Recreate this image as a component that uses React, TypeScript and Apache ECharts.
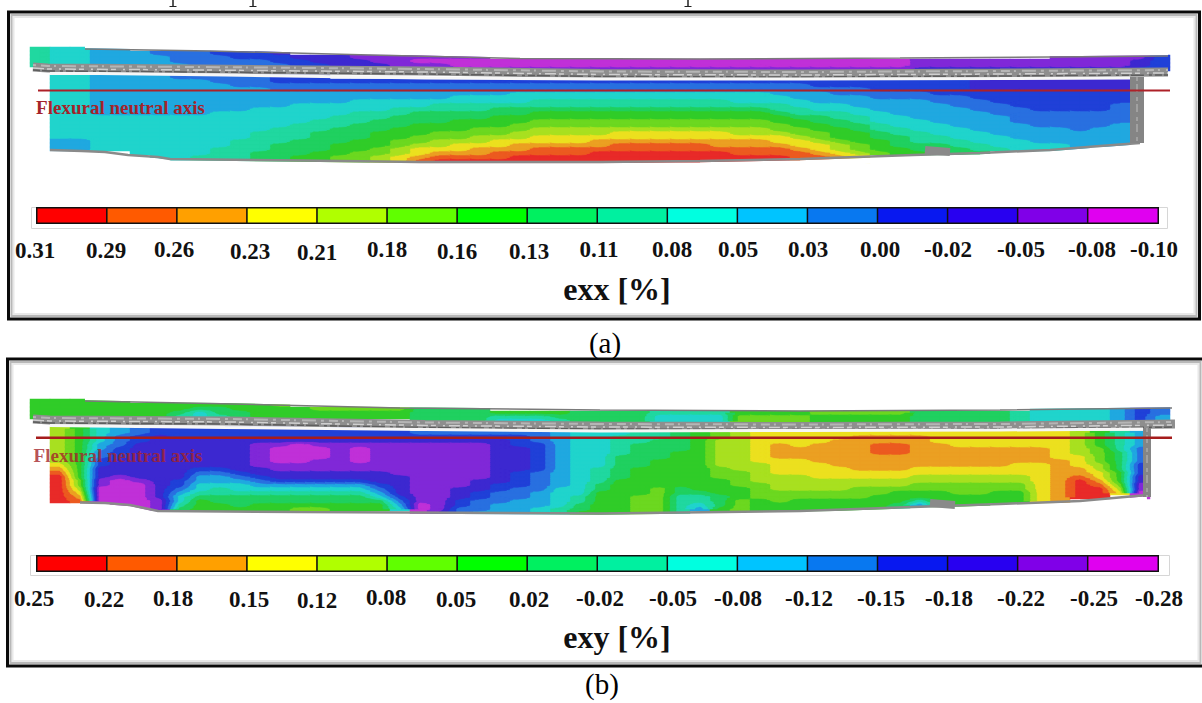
import React, { useEffect, useRef } from "react";
import * as echarts from "echarts";

// Legend tick labels, red end first.
const exxTicks = ["0.31","0.29","0.26","0.23","0.21","0.18","0.16","0.13","0.11","0.08","0.05","0.03","0.00","-0.02","-0.05","-0.08","-0.10"];
const exyTicks = ["0.25","0.22","0.18","0.15","0.12","0.08","0.05","0.02","-0.02","-0.05","-0.08","-0.12","-0.15","-0.18","-0.22","-0.25","-0.28"];
const legendColors = ["#ff0000","#ff5a00","#ffa000","#ffff00","#b0ff00","#60ff00","#00ff00","#00f060","#00f0a0","#00ffe0","#00c4ff","#0878f0","#0818f0","#2800f0","#8000e8","#e000f0"];
const fieldColors = ["#e82a28","#ec5a20","#eba022","#ece01e","#a8e020","#6cd820","#30cc28","#20d060","#20d8a0","#20d4cc","#20a8e0","#2870e0","#2040d8","#3c28d0","#8028d8","#c030d8"];

// One string per beam column (left to right), one character per row (top to bottom):
const exxFlange = ["88888..","99999..","99999..","aaaaa..","aaaaa..",".aaaa..",".baaa..",".bbba..",".bbbb..",".cbbb..",".ccbb..",".ccbb..",".dccb..","..dcc..","..ddc..","..ddd..","..edd..","..eed..","..eee..","..efee.","..efee.","..effe.","..effe.","...ffe.","...ffe.","...ffe.","...ffe.","...ffe.","...ffe.","...ffe.","...ffe.","...ffe.","...ffe.","...ffe.","...ffe.","...ffe.","...ffe.","...ffe.","...ffe.","...ffe.","...ffe.","...ffe.","...ffe.","...ffe.","...eed.","...eed.","...eed.","...eed.","...eed.","...eed.","...eed.","..eeed.","..eeed.","..eeed.","..eeed.","..eddc.","..cccc."];
const exxWeb = [
"......................","9999999999999999aaa...","9999999999999999aaa...","aaaaaaaaaa999999999...","aaaaaaaaaa999999999...","aaaaaaaaaa9999999999..","aaaaaaaaaa99999999999.","baaaaaaaaa999999999999","baaaaaaaaa999999999988",
"bbaaaaaaa9999999998888","bbbaaaaaa9999999888888","bbbaaaaa99999988888777","ccbbaaaa99999888877777","ccbbaaa999998888777766","ccbbaaa999988877777666",".cbbaaa999888777766655",".cbbaa9998887777666555",".cbbaa9998877766665544",".cbbaa9988777666554433",
".cbbaa9987776665543321",".cbbaa9887776655443210",".cbba99887766655433210",".cbba99887766554432210",".cbba99877666554332110",".cbb999877665544322100",
".cbb998876655443321100",".cbb998876655443321100",".cbb998876655443321100",".cbb998876655443221000",".cbb998876655433211000",".cbb998876655433211000",".cbb998876655433211000",
".cbb998876655433211000",".cbb998876655433211000",".cbb998876655433221000",".cbb999876655443221100",
".cbb999876655443221100",".cbba99887665543321100",".cbbaa9988766554332111",".ccbaaa998776655433211",".ccbbaa998877666544322",".ccbbaaa99887766655433",".cccbbaaa99988776665..",".cccbbaaaa9998877766..",".cccbbaaaaa999888776..",".ccccbbaaaaa99988777..",".ccccbbbaaaaa9998877..",".dddccbbbaaaaa999887..",".dddcccbbbaaaaa9998...",".dddccccbbbbaaaa999...",".dddcccccbbbbaaaa99...",".dddcccccbbbbaaaa99...",".dddcccccbbbbbaaaaa...",".dddcccccbbbbaaaaa....",".dddcccbbbbbaaaaaa....","......................","......................"];

const exyFlange = ["66666..","66666..","66666..","66666..","66666..",".6666..",".6666..",".6678..",".6799..",".6778..",".6677..",".6666..",".5666..","..666..","..566..","..566..","..566..","..566..","..566..","..7777.","..7777.","..7777.","..7777.","...689.","...689.","...689.","...678.","...777.","...777.","...777.","...777.","...899.","...899.","...899.","...899.","...655.","...655.","...655.","...655.","...566.","...566.","...566.","...566.","...566.","...777.","...777.","...777.","...777.","...777.","...888.","..9999.","..9999.","..9999.","..9999.","..aaaa.","..cccc.","..bbaa."];
const exyWeb = [
"......................","4444444443210000000...","6666666666666554321...","9999aabbccdddeeffff...","aabbbcccddddefffffff..","bbccdddddddddefffffff.","ccddddddddddddddddeee.","cccddddddddddccba9987.","cccdddddddcbaa9987666.","cccdddddddcbaa9887766.","cccddddddddcba9987776.",
"cccdeeeeeeddcba987766.","cccdeffffeeddca987766.","cccdfffffeeddca987765.","cccdefffeeeddca987765.","cccdeeeeeeeddca987766.","cccdeffffeeddca987766.","cccdeeeeeeedddcba9766.","cccdeeeeeeeedddddcba9.",
".bcdeeeeeeeeeeeeeeefff",".bcdeeeeeeeeeeeeeeeeed",".bcdeeeeeeeeeeedddccbb",".bcdeeeeeeeeedddccbbba",".bcdddddddddddccbbbaaa",".bcccddddddccccbbbaaaa",".bbbcccccccbbbbbaaaa99",".aaaaaaaaaaaaaa9999988",".999999999999999988776",".999999999888877666666",".988888777777666666666",".888777777666666655555",".887777766666665555555",".777776666666667788888",".6666666666666667889a.",".55444444455566667776.",".44444444445555666555.",".33333333444445555666.",".33322223333444455566.",
".33332223333444455666.",".33322222333344455666.",".33222222233344455666.",".32222222223344555666.",".32211122223344556666.",".32211122223344566678.",".322222222334455668a..",".3332222223344556666..",".3333222223344555666..",".3333222223344555666..",".333322222334455666...",".333322223334455666...",".333322223333333333...",".333333322222222222...",".44444433322100000....",".66665555443321000....",".8888877777666543.....",".aaaabbbbcccddeeff....","......................"];

// Beam outlines and reference lines, in picture-scale length units.
const exxTopX = [85,210,370,520,700,900,1050,1168];
const exxTopY = [49,51,55,58.5,59,58,57,56];
const exxBottomX = [50,82,105,128,158,170,300,420,600,700,800,913,980,1050,1100,1140];
const exxBottomY = [150,151,152,155,157,159,160.5,162,162,161,159,155,153,150,146,143];
const exxGapX = [33,48,200,425,600,800,1000,1168];
const exxGapY = [67,68,69,71,73.5,74,73,72];
const exxWhiteX = [50,100,225,425,600,800,1000,1130];
const exxWhiteY = [73.5,73.5,75,78,79,79,78.5,78];
const exxBlobX = [925,950];
const exxBlobY = [150,152];
const exxEndX = [1137,1137];
const exxEndY = [77,143];
const exxAxisX = [38,1170];
const exxAxisY = [90.5,90.5];

const exyTopX = [85,210,400,600,800,1000,1175];
const exyTopY = [401,403.5,408,410,411,410,408];
const exyBottomX = [80,105,130,158,300,600,800,913,1000,1080,1147];
const exyBottomY = [502.5,503,505,511,512,513.5,511,507,504,501,495];
const exyGapX = [33,50,230,425,600,800,1000,1175];
const exyGapY = [419,420,421,424.5,426,426.5,426,424];
const exyWhiteX = [50,225,425,600,800,1000,1143];
const exyWhiteY = [425.5,427.5,429.5,431,430.5,430,429];
const exyBlobX = [930,955];
const exyBlobY = [503,505];
const exyEndX = [1147,1147];
const exyEndY = [428,497];
const exyAxisX = [36,1173];
const exyAxisY = [437.7,437.7];

// Where the tick labels sit (centre x, centre y).
const exxLabelX = [35,106,174,250,317,387,457,529,599,672,738,808,880,948,1021,1092,1154];
const exxLabelY = [250,250,249,251,252,249,251,251,249,249,249,249,249,249,249,249,249];
const exyLabelX = [34,104,173,249,317,386,456,529,600,673,738,809,881,949,1021,1094,1159];
const exyLabelY = [598,599,598,599,600,597,599,599,598,598,598,598,598,598,598,598,598];

const serif = '"Liberation Serif", "Times New Roman", serif';

function bandCenters(ticks: string[]) {
  const n = ticks.map(Number);
  return n.slice(0, -1).map((v, i) => (v + n[i + 1]) / 2);
}
function pieces(ticks: string[], colors: string[]) {
  const n = ticks.map(Number);
  return colors.map((color, i) => ({ gte: n[i + 1], lt: n[i], color }));
}
function cells(flange: string[], web: string[], ticks: string[]) {
  const centers = bandCenters(ticks);
  const out: number[][] = [];
  flange.forEach((f, c) => {
    const col = f + web[c];
    for (let r = 0; r < col.length; r++) {
      const b = parseInt(col[r], 16);
      if (!Number.isNaN(b)) out.push([c, r, centers[b]]);
    }
  });
  return out;
}
// Each block of four neighbouring cells: the bands at its corners, for the filled-contour drawing.
function quads(flange: string[], web: string[]) {
  const out: number[][] = [];
  const col = (c: number) => flange[c] + web[c];
  for (let c = 0; c < flange.length - 1; c++) {
    const a = col(c), b = col(c + 1);
    for (let r = 0; r < a.length - 1; r++) {
      const v = [a[r], b[r], b[r + 1], a[r + 1]].map((s) => parseInt(s, 16));
      if (v.every((x) => !Number.isNaN(x))) out.push([c, r, ...v]);
    }
  }
  return out;
}
type P = [number, number, number];
function clip(poly: P[], limit: number, keepAbove: boolean): P[] {
  const out: P[] = [];
  const inside = (p: P) => (keepAbove ? p[2] >= limit : p[2] <= limit);
  for (let i = 0; i < poly.length; i++) {
    const a = poly[i], b = poly[(i + 1) % poly.length];
    const ia = inside(a), ib = inside(b);
    if (ia) out.push(a);
    if (ia !== ib) {
      const t = (limit - a[2]) / (b[2] - a[2]);
      out.push([a[0] + (b[0] - a[0]) * t, a[1] + (b[1] - a[1]) * t, limit]);
    }
  }
  return out;
}
const polygon = (pts: number[][], fill: string) => ({
  type: "polygon",
  shape: { points: pts.map((p) => [p[0], p[1]]) },
  style: { fill, stroke: fill, lineWidth: 0.6 },
});
function contourItem(_params: any, api: any) {
  const c = api.value(0), r = api.value(1);
  const v = [api.value(2), api.value(3), api.value(4), api.value(5)];
  const at = [api.coord([c, r]), api.coord([c + 1, r]), api.coord([c + 1, r + 1]), api.coord([c, r + 1])];
  const lo = Math.min(...v), hi = Math.max(...v);
  const children: any[] = [];
  if (lo === hi) {
    children.push(polygon(at, fieldColors[lo]));
  } else {
    const mid = (v[0] + v[1] + v[2] + v[3]) / 4;
    const cx = (at[0][0] + at[2][0]) / 2, cy = (at[0][1] + at[2][1]) / 2;
    for (let i = 0; i < 4; i++) {
      const j = (i + 1) % 4;
      const tri: P[] = [[at[i][0], at[i][1], v[i]], [at[j][0], at[j][1], v[j]], [cx, cy, mid]];
      for (let b = lo; b <= hi; b++) {
        const part = clip(clip(tri, b - 0.5, true), b + 0.5, false);
        if (part.length >= 3) children.push(polygon(part, fieldColors[b]));
      }
    }
  }
  return { type: "group", children };
}
const range = (n: number) => Array.from({ length: n }, (_, i) => String(i));

export default function App() {
  const ref = useRef<HTMLDivElement>(null);
  useEffect(() => {
    const chart = echarts.init(ref.current!, undefined, { renderer: "svg" });

    const grids: any[] = [], xAxes: any[] = [], yAxes: any[] = [], series: any[] = [], visualMaps: any[] = [];
    const hidden = { show: false };

    const addPanel = (p: any) => {
      const gHeat = grids.length;
      grids.push({ left: 30, top: p.top, width: 1140, height: 116 });
      xAxes.push({ type: "category", gridIndex: gHeat, data: range(57), ...hidden });
      yAxes.push({ type: "category", gridIndex: gHeat, inverse: true, data: range(29), ...hidden });
      const gOver = grids.length;
      grids.push({ left: 30, top: p.top, width: 1140, height: 116 });
      xAxes.push({ type: "value", gridIndex: gOver, min: 30, max: 1170, ...hidden });
      yAxes.push({ type: "value", gridIndex: gOver, inverse: true, min: p.top, max: p.top + 116, ...hidden });
      const gBar = grids.length;
      grids.push({ left: p.barLeft, top: p.barTop, width: 1121, height: 15 });
      xAxes.push({ type: "category", gridIndex: gBar, data: range(16), ...hidden });
      yAxes.push({ type: "category", gridIndex: gBar, data: ["0"], ...hidden });

      const heatIdx = series.length;
      series.push({ type: "heatmap", xAxisIndex: gHeat, yAxisIndex: gHeat, progressive: 0, silent: true, data: cells(p.flange, p.web, p.ticks) });
      visualMaps.push({ type: "piecewise", show: false, dimension: 2, seriesIndex: heatIdx, pieces: pieces(p.ticks, fieldColors) });
      series.push({
        type: "custom", xAxisIndex: gHeat, yAxisIndex: gHeat, silent: true, progressive: 0, clip: false,
        encode: { x: 0, y: 1 }, renderItem: contourItem, data: quads(p.flange, p.web),
      });

      const line = (xs: number[], ys: number[], color: string, width: number, dash?: number[]) =>
        series.push({
          type: "line", xAxisIndex: gOver, yAxisIndex: gOver, silent: true, clip: false, showSymbol: false, symbol: "none",
          lineStyle: { color, width, type: dash || "solid", cap: "butt" }, data: xs.map((x, i) => [x, ys[i]]),
        });
      // white masks just outside the beam edges trim the cell corners to the outline
      line(p.topX, p.topY.map((y: number) => y - 4.25), "#ffffff", 7);
      line(p.bottomX, p.bottomY.map((y: number) => y + 4.2), "#ffffff", 6);
      line(p.gapX, p.gapY, "#8e8e8e", 9);
      line(p.gapX, p.gapY.map((y: number) => y - 2), "#b5b5b5", 2, [3, 5, 9, 4, 2, 6, 14, 5]);
      line(p.gapX, p.gapY.map((y: number) => y + 1), "#d0d0d0", 1.5, [11, 3, 5, 7, 2, 4]);
      line(p.gapX, p.gapY.map((y: number) => y + 3), "#5e5e5e", 1.5, [7, 2, 13, 5, 3, 3]);
      line(p.whiteX, p.whiteY, "#f6f6f6", 3);
      line(p.topX, p.topY, "#7a7a7a", 1.5);
      line(p.bottomX, p.bottomY, "#8a8a8a", 2.5);
      line(p.blobX, p.blobY, "#8a8a8a", 8);
      line(p.endX, p.endY, "#858585", p.endW);
      line(p.endX, p.endY, "#a0a0a0", 2, [4, 3, 8, 5]);
      line(p.axisX, p.axisY, p.axisColor, p.axisW);

      const barIdx = series.length;
      series.push({
        type: "heatmap", xAxisIndex: gBar, yAxisIndex: gBar, silent: true,
        itemStyle: { borderColor: "#101010", borderWidth: 1.5 },
        data: bandCenters(p.ticks).map((v, i) => [i, 0, v]),
      });
      visualMaps.push({ type: "piecewise", show: false, dimension: 2, seriesIndex: barIdx, pieces: pieces(p.ticks, legendColors) });
    };

    addPanel({
      top: 47, barLeft: 37, barTop: 208, flange: exxFlange, web: exxWeb, ticks: exxTicks,
      topX: exxTopX, topY: exxTopY, bottomX: exxBottomX, bottomY: exxBottomY, gapX: exxGapX, gapY: exxGapY,
      whiteX: exxWhiteX, whiteY: exxWhiteY, blobX: exxBlobX, blobY: exxBlobY, endX: exxEndX, endY: exxEndY, endW: 14,
      axisX: exxAxisX, axisY: exxAxisY, axisColor: "#ad2128", axisW: 2,
    });
    addPanel({
      top: 399, barLeft: 37, barTop: 556, flange: exyFlange, web: exyWeb, ticks: exyTicks,
      topX: exyTopX, topY: exyTopY, bottomX: exyBottomX, bottomY: exyBottomY, gapX: exyGapX, gapY: exyGapY,
      whiteX: exyWhiteX, whiteY: exyWhiteY, blobX: exyBlobX, blobY: exyBlobY, endX: exyEndX, endY: exyEndY, endW: 8,
      axisX: exyAxisX, axisY: exyAxisY, axisColor: "#a61c1c", axisW: 2.5,
    });

    const frame = (x: number, y: number, w: number, h: number) => [
      { type: "rect", shape: { x: x + 5, y: y + 5, width: w - 10, height: h - 10 }, style: { fill: "none", stroke: "#e8e8e8", lineWidth: 2 } },
      { type: "rect", shape: { x: x + 3, y: y + 3, width: w - 6, height: h - 6 }, style: { fill: "none", stroke: "#b8b8b8", lineWidth: 2 } },
      { type: "rect", shape: { x, y, width: w, height: h }, style: { fill: "none", stroke: "#0a0a0a", lineWidth: 3 } },
    ];
    const textAt = (text: string, x: number, y: number, font: string, fill = "#111", extra: any = {}) => ({
      type: "text", z: 100, x, y,
      style: { text, font, fill, align: "center", verticalAlign: "middle", ...extra },
    });
    const stem = (x: number) => ([
      { type: "line", shape: { x1: x, y1: 0, x2: x, y2: 6 }, style: { stroke: "#222", lineWidth: 1.5 } },
      { type: "line", shape: { x1: x - 3.5, y1: 6.5, x2: x + 3.5, y2: 6.5 }, style: { stroke: "#222", lineWidth: 1 } },
    ]);
    const legendBox = (x: number, y: number, w: number, h: number) => ({
      type: "rect", shape: { x, y, width: w, height: h }, style: { fill: "#fff", stroke: "#d6d6d6", lineWidth: 1 },
    });

    const graphic: any[] = [
      ...stem(173), ...stem(253), ...stem(688),
      ...frame(8.5, 12, 1191, 307),
      ...frame(7.5, 359, 1196, 307),
      legendBox(31.5, 207.5, 1136, 21),
      legendBox(30.5, 555.5, 1139, 20),
      ...exxTicks.map((t, i) => textAt(t, exxLabelX[i], exxLabelY[i], `bold 23px ${serif}`)),
      ...exyTicks.map((t, i) => textAt(t, exyLabelX[i], exyLabelY[i], `bold 23px ${serif}`)),
      textAt("exx [%]", 617, 289, `bold 32px ${serif}`),
      textAt("exy [%]", 617, 637, `bold 32px ${serif}`),
      textAt("(a)", 605, 343, `29px ${serif}`, "#000"),
      textAt("(b)", 602, 684, `29px ${serif}`, "#000"),
      textAt("Flexural neutral axis", 120.5, 107, `bold 19px ${serif}`, "#a4232a"),
      textAt("Flexural neutral axis", 118, 455, `bold 19px ${serif}`, "#a4232a", { opacity: 0.8 }),
    ];

    chart.setOption({
      animation: false,
      backgroundColor: "#ffffff",
      tooltip: { show: false },
      grid: grids,
      xAxis: xAxes,
      yAxis: yAxes,
      visualMap: visualMaps,
      series,
      graphic: { elements: graphic },
    });
    return () => chart.dispose();
  }, []);
  return <div ref={ref} style={{ position: "absolute", left: 0, top: 0, width: 1202, height: 703 }} />;
}
